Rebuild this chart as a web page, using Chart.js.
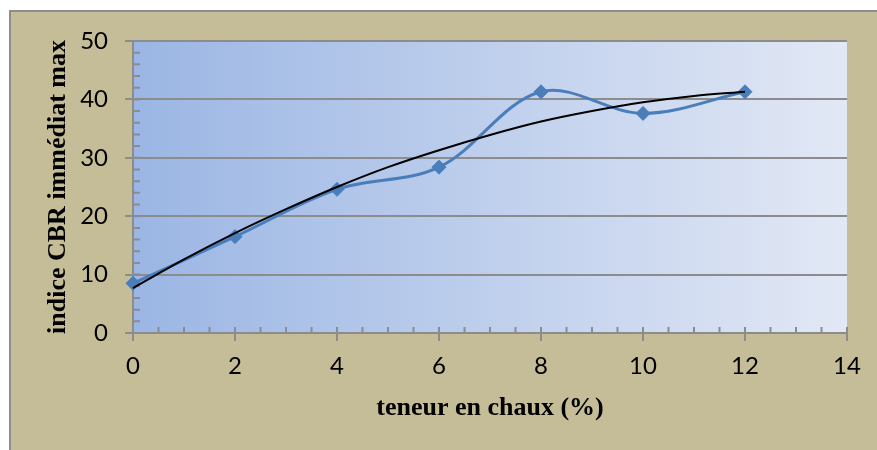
<!DOCTYPE html>
<html>
<head>
<meta charset="utf-8">
<script src="https://cdn.jsdelivr.net/npm/chart.js@4.4.0/dist/chart.umd.min.js"></script>
<style>
    body { margin: 0; background: #ffffff; }
    #wrap { width: 877px; height: 450px; }
</style>
</head>
<body>
<div id="wrap"><canvas id="graph" width="877" height="450"></canvas></div>
<script>
// lime content (%) and immediate CBR index
const chauxValues = [0, 2, 4, 6, 8, 10, 12];
const cbrValues = [8.5, 16.5, 24.6, 28.4, 41.3, 37.6, 41.3];

// black trend curve at each percent
const trendX = [0, 1, 2, 3, 4, 5, 6, 7, 8, 9, 10, 11, 12];
const trendValues = [7.7, 12.6, 17.1, 21.2, 25.0, 28.4, 31.3, 33.9, 36.2, 38.0, 39.5, 40.6, 41.3];

const xTicks = [0, 2, 4, 6, 8, 10, 12, 14];
const yTicks = [0, 10, 20, 30, 40, 50];

const gridGray = '#8c8c8c';

function toPoints(xs, ys) {
    let pts = [];
    for (let i = 0; i < xs.length; i++) {
        pts.push({x: xs[i], y: ys[i]});
    }
    return pts;
}

// khaki frame and blue gradient behind the plot
const background = {
    id: 'background',
    beforeDraw: function(chart) {
        const ctx = chart.ctx;
        const a = chart.chartArea;
        ctx.save();
        ctx.fillStyle = '#ffffff';
        ctx.fillRect(0, 0, chart.width, chart.height);
        ctx.fillStyle = '#c4bd97';
        ctx.fillRect(9, 10, chart.width - 9, chart.height - 10);
        ctx.strokeStyle = '#8e8e8e';
        ctx.lineWidth = 2;
        ctx.beginPath();
        ctx.moveTo(10, chart.height);
        ctx.lineTo(10, 11);
        ctx.lineTo(chart.width, 11);
        ctx.stroke();
        let grad = ctx.createLinearGradient(a.left, 0, a.right, 0);
        grad.addColorStop(0, '#9bb6e4');
        grad.addColorStop(1, '#e2e8f5');
        ctx.fillStyle = grad;
        ctx.fillRect(a.left, a.top, a.right - a.left, a.bottom - a.top);
        ctx.restore();
    }
};

// small inner tick marks on both axes
const minorTicks = {
    id: 'minorTicks',
    beforeDatasetsDraw: function(chart) {
        const ctx = chart.ctx;
        const a = chart.chartArea;
        const xs = chart.scales.x;
        const ys = chart.scales.y;
        ctx.save();
        ctx.strokeStyle = gridGray;
        ctx.lineWidth = 2;
        ctx.beginPath();
        for (let v = 2; v < 50; v += 2) {
            let py = ys.getPixelForValue(v);
            ctx.moveTo(a.left, py);
            ctx.lineTo(a.left + 7, py);
        }
        for (let v = 0.5; v <= 14; v += 0.5) {
            let px = xs.getPixelForValue(v);
            ctx.moveTo(px, a.bottom);
            ctx.lineTo(px, a.bottom - 6);
        }
        ctx.stroke();
        ctx.restore();
    }
};

const ctx = document.getElementById('graph');

new Chart(ctx, {
    type: 'scatter',
    data: {
        datasets: [{
            label: 'tendance',
            data: toPoints(trendX, trendValues),
            showLine: true,
            borderColor: '#000000',
            borderWidth: 2,
            pointRadius: 0,
            cubicInterpolationMode: 'monotone',
            clip: false,
            order: 0
        }, {
            label: 'indice CBR',
            data: toPoints(chauxValues, cbrValues),
            showLine: true,
            borderColor: '#4a7ebb',
            borderWidth: 3,
            tension: 0.35,
            pointStyle: 'rectRot',
            pointRadius: 7,
            pointBackgroundColor: '#4a7ebb',
            pointBorderColor: '#4a7ebb',
            pointBorderWidth: 1,
            clip: false,
            order: 1
        }]
    },
    options: {
        responsive: false,
        animation: false,
        layout: {
            padding: {left: 40, top: 41, right: 30, bottom: 0}
        },
        plugins: {
            legend: { display: false },
            tooltip: { enabled: false }
        },
        scales: {
            x: {
                type: 'linear',
                min: 0,
                max: 14,
                afterFit: function(scale) { scale.height = 117; },
                afterBuildTicks: function(scale) {
                    scale.ticks = xTicks.map(function(v) { return {value: v}; });
                },
                grid: {
                    drawOnChartArea: false,
                    color: gridGray,
                    lineWidth: 2,
                    tickLength: 8
                },
                border: { color: gridGray, width: 2 },
                ticks: {
                    color: '#000000',
                    padding: 11,
                    font: { family: 'Lato', size: 24 }
                },
                title: {
                    display: true,
                    text: 'teneur en chaux (%)',
                    color: '#000000',
                    padding: {top: 0, bottom: 26},
                    font: { family: 'Liberation Serif', size: 26, weight: 'bold' }
                }
            },
            y: {
                min: 0,
                max: 50,
                afterFit: function(scale) { scale.width = 93; },
                afterBuildTicks: function(scale) {
                    scale.ticks = yTicks.map(function(v) { return {value: v}; });
                },
                grid: {
                    color: gridGray,
                    lineWidth: 2,
                    tickLength: 8
                },
                border: { color: gridGray, width: 2 },
                ticks: {
                    color: '#000000',
                    padding: 17,
                    font: { family: 'Lato', size: 24 }
                },
                title: {
                    display: true,
                    text: 'indice CBR immédiat max',
                    color: '#000000',
                    padding: {top: 3, bottom: 0},
                    font: { family: 'Liberation Serif', size: 26, weight: 'bold' }
                }
            }
        }
    },
    plugins: [background, minorTicks]
});
</script>
</body>
</html>
